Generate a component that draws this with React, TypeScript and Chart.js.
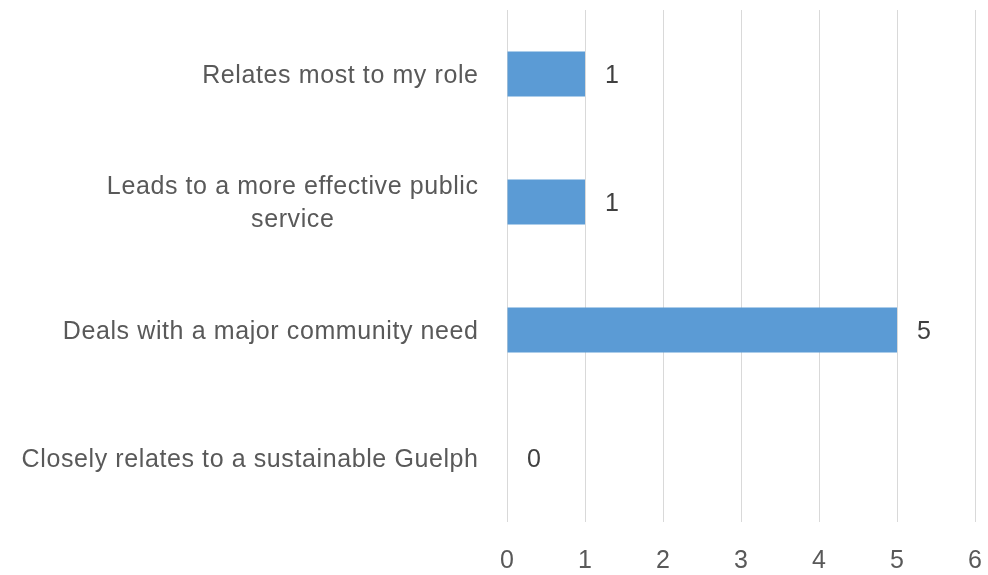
import React, { useEffect, useRef } from "react";
import { Chart, registerables } from "chart.js";

Chart.register(...registerables);

const categories: string[][] = [
  ["Relates most to my role"],
  ["Leads to a more effective public", "service"],
  ["Deals with a major community need"],
  ["Closely relates to a sustainable Guelph"],
];
const values: number[] = [1, 1, 5, 0];
const xTicks: number[] = [0, 1, 2, 3, 4, 5, 6];

const FONT = "'Liberation Sans', Arial, sans-serif";
const FONT_SIZE = 25;
const SPACING = 0.6;

const labelPlugin = {
  id: "customLabels",
  afterDraw(chart: any) {
    const ctx = chart.ctx;
    const yScale = chart.scales.y;
    const xScale = chart.scales.x;
    ctx.save();
    ctx.font = `${FONT_SIZE}px ${FONT}`;
    (ctx as any).letterSpacing = `${SPACING}px`;
    ctx.fillStyle = "#595959";
    ctx.textBaseline = "middle";
    const rightEdge = chart.chartArea.left - 29;
    const lineH = 33;
    categories.forEach((lines, i) => {
      const yc = yScale.getPixelForValue(i) + 2;
      const widths = lines.map((l) => ctx.measureText(l).width - SPACING);
      const maxW = Math.max(...widths);
      ctx.textAlign = "left";
      lines.forEach((l, j) => {
        const y = yc + (j - (lines.length - 1) / 2) * lineH;
        const x = rightEdge - maxW / 2 - widths[j] / 2;
        ctx.fillText(l, x, y);
      });
    });
    (ctx as any).letterSpacing = "0px";
    ctx.fillStyle = "#404040";
    ctx.textAlign = "left";
    values.forEach((v, i) => {
      const yc = yScale.getPixelForValue(i);
      const x = xScale.getPixelForValue(v) + 20;
      ctx.fillText(String(v), x, yc + 2);
    });
    ctx.restore();
  },
};

export default function App() {
  const ref = useRef<HTMLCanvasElement | null>(null);
  useEffect(() => {
    document.body.style.margin = "0";
    const chart = new Chart(ref.current as HTMLCanvasElement, {
      type: "bar",
      data: {
        labels: categories.map((c) => c.join(" ")),
        datasets: [
          {
            data: values,
            backgroundColor: "#5B9BD5",
            borderWidth: 0,
            categoryPercentage: 1,
            barPercentage: 0.35,
          },
        ],
      },
      options: {
        indexAxis: "y",
        animation: false,
        responsive: false,
        maintainAspectRatio: false,
        layout: { padding: { top: 10, right: 13, left: 0, bottom: 0 } },
        plugins: { legend: { display: false }, tooltip: { enabled: false } },
        scales: {
          x: {
            min: 0,
            max: 6,
            afterBuildTicks: (scale: any) => {
              scale.ticks = xTicks.map((v) => ({ value: v }));
            },
            grid: { color: "#d9d9d9", lineWidth: 1, drawTicks: false },
            border: { display: false },
            ticks: {
              color: "#595959",
              font: { family: FONT, size: FONT_SIZE },
              padding: 24,
            },
            afterFit: (scale: any) => {
              scale.height = 53;
              scale.paddingRight = 0;
              scale.paddingLeft = 0;
            },
          },
          y: {
            grid: { display: false },
            border: { display: false },
            ticks: { display: false },
            afterFit: (scale: any) => {
              scale.width = 507;
            },
          },
        },
      },
      plugins: [labelPlugin],
    });
    return () => chart.destroy();
  }, []);
  return (
    <div style={{ position: "fixed", left: 0, top: 0, width: 988, height: 575 }}>
      <canvas ref={ref} width={988} height={575} style={{ width: 988, height: 575 }} />
    </div>
  );
}
